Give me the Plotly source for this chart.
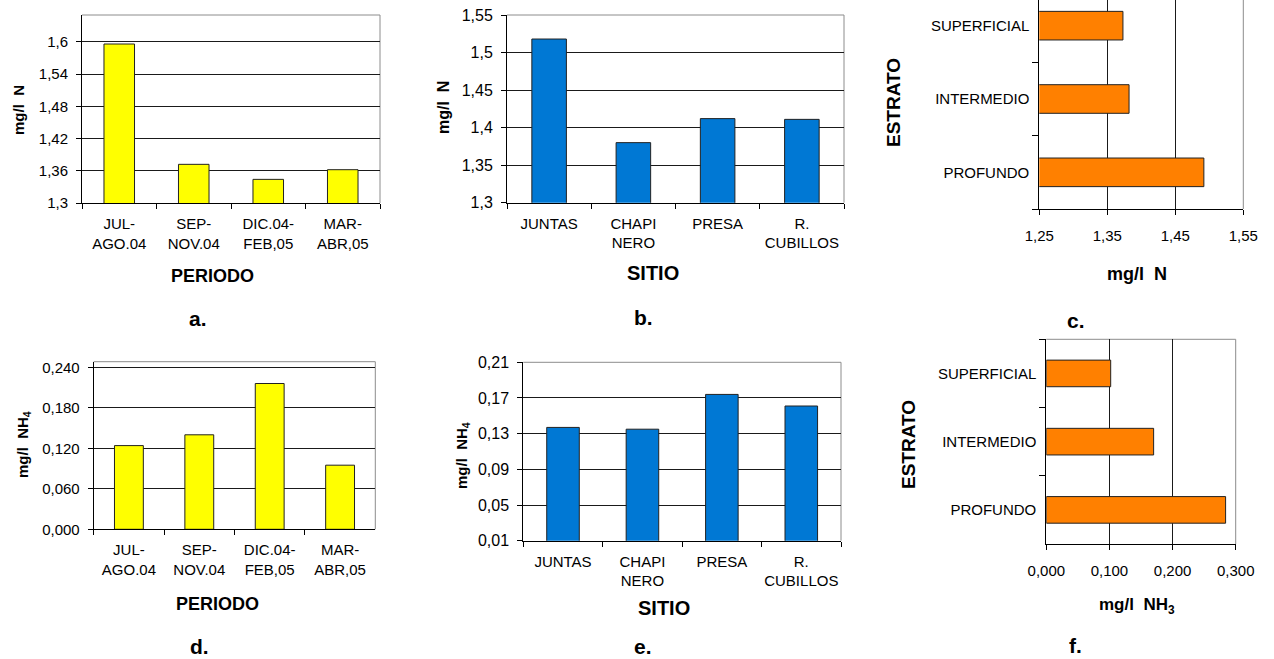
import plotly.graph_objects as go

W, H = 1274, 659
FONT = "Liberation Sans, Arial, sans-serif"

# ---- data -------------------------------------------------------------
periodos = ["JUL-<br>AGO.04", "SEP-<br>NOV.04", "DIC.04-<br>FEB,05", "MAR-<br>ABR,05"]
sitios = ["JUNTAS", "CHAPI<br>NERO", "PRESA", "R.<br>CUBILLOS"]
estratos = ["PROFUNDO", "INTERMEDIO", "SUPERFICIAL"]

n_periodo = [1.596, 1.372, 1.344, 1.362]
n_sitio = [1.518, 1.380, 1.412, 1.411]
n_estrato = [1.492, 1.382, 1.373]
nh4_periodo = [0.124, 0.140, 0.216, 0.095]
nh4_sitio = [0.137, 0.135, 0.174, 0.161]
nh3_estrato = [0.284, 0.170, 0.102]

ticks_a = [1.3, 1.36, 1.42, 1.48, 1.54, 1.6]
labels_a = ["1,3", "1,36", "1,42", "1,48", "1,54", "1,6"]
ticks_b = [1.3, 1.35, 1.4, 1.45, 1.5, 1.55]
labels_b = ["1,3", "1,35", "1,4", "1,45", "1,5", "1,55"]
ticks_c = [1.25, 1.35, 1.45, 1.55]
labels_c = ["1,25", "1,35", "1,45", "1,55"]
ticks_d = [0.0, 0.06, 0.12, 0.18, 0.24]
labels_d = ["0,000", "0,060", "0,120", "0,180", "0,240"]
ticks_e = [0.01, 0.05, 0.09, 0.13, 0.17, 0.21]
labels_e = ["0,01", "0,05", "0,09", "0,13", "0,17", "0,21"]
ticks_f = [0.0, 0.1, 0.2, 0.3]
labels_f = ["0,000", "0,100", "0,200", "0,300"]

YELLOW = "#FFFF00"
BLUE = "#0078D4"
ORANGE = "#FF8000"


def px(x):
    return x / W


def py(y):
    return 1 - y / H


fig = go.Figure()

# panel geometry in pixels: (left, right, top, bottom)
panels = [
    dict(k="", box=(82, 380, 15, 203), orient="v", cats=periodos, vals=n_periodo,
         color=YELLOW, rng=[1.3, 1.65], tv=ticks_a, tt=labels_a, tfs=15),
    dict(k="2", box=(507, 844, 15, 202.7), orient="v", cats=sitios, vals=n_sitio,
         color=BLUE, rng=[1.3, 1.55], tv=ticks_b, tt=labels_b, tfs=16),
    dict(k="3", box=(1039.3, 1243.3, 0, 209), orient="h", cats=estratos, vals=n_estrato,
         color=ORANGE, rng=[1.25, 1.55], tv=ticks_c, tt=labels_c, tfs=15, crng=[-0.5, 2.35]),
    dict(k="4", box=(93.7, 375.3, 361.7, 529.3), orient="v", cats=periodos, vals=nh4_periodo,
         color=YELLOW, rng=[0.0, 0.2483], tv=ticks_d, tt=labels_d, tfs=15),
    dict(k="5", box=(523.3, 841, 362.3, 540.7), orient="v", cats=sitios, vals=nh4_sitio,
         color=BLUE, rng=[0.01, 0.21], tv=ticks_e, tt=labels_e, tfs=16),
    dict(k="6", box=(1046.3, 1235.7, 339.3, 544), orient="h", cats=estratos, vals=nh3_estrato,
         color=ORANGE, rng=[0.0, 0.3], tv=ticks_f, tt=labels_f, tfs=15, crng=[-0.5, 2.5]),
]

layout_axes = {}
shapes = []
for p in panels:
    k = p["k"]
    x0, x1, y0, y1 = p["box"]
    xa, ya = "x" + k, "y" + k
    line = dict(color="#222222", width=1)
    common = dict(ticks="outside", tickcolor="#000", showline=True, linecolor="#000",
                  linewidth=1, automargin=False, fixedrange=True, tickangle=0)
    if p["orient"] == "v":
        fig.add_trace(go.Bar(x=p["cats"], y=p["vals"], xaxis=xa, yaxis=ya, width=0.41,
                             marker=dict(color=p["color"], line=line)))
        cat_ax = dict(type="category", tickson="boundaries", ticklen=5, showgrid=False,
                      ticklabelstandoff=7,
                      tickfont=dict(size=15, color="#000", family=FONT), **common)
        val_ax = dict(range=p["rng"], tickvals=p["tv"], ticktext=p["tt"], ticklen=5,
                      ticklabelstandoff=5, showgrid=True, gridcolor="#1a1a1a", gridwidth=1,
                      zeroline=False,
                      tickfont=dict(size=p["tfs"], color="#000", family=FONT), **common)
        xdef, ydef = cat_ax, val_ax
    else:
        fig.add_trace(go.Bar(y=p["cats"], x=p["vals"], orientation="h", xaxis=xa, yaxis=ya,
                             width=0.39, marker=dict(color=p["color"], line=line)))
        cat_ax = dict(type="category", range=p["crng"], tickson="boundaries", ticklen=6,
                      ticklabelstandoff=6, showgrid=False,
                      tickfont=dict(size=15, color="#000", family=FONT), **common)
        val_ax = dict(range=p["rng"], tickvals=p["tv"], ticktext=p["tt"], ticklen=5,
                      ticklabelstandoff=8, showgrid=True, gridcolor="#1a1a1a", gridwidth=1,
                      zeroline=False,
                      tickfont=dict(size=p["tfs"], color="#000", family=FONT), **common)
        xdef, ydef = val_ax, cat_ax
    xdef.update(domain=[px(x0), px(x1)], anchor=ya)
    ydef.update(domain=[py(y1), py(y0)], anchor=xa)
    layout_axes["xaxis" + k] = xdef
    layout_axes["yaxis" + k] = ydef
    # plot-area border (top and right edges)
    frame = dict(color="#8c8c8c", width=1)
    shapes.append(dict(type="line", xref=xa + " domain", yref=ya + " domain",
                       x0=1, x1=1, y0=0, y1=1, line=frame, layer="below"))
    if y0 > 0:
        shapes.append(dict(type="line", xref=xa + " domain", yref=ya + " domain",
                           x0=0, x1=1, y0=1, y1=1, line=frame, layer="below"))


# axis titles and panel letters
def ann(text, x, y, size, angle=0):
    return dict(text=f"<b>{text}</b>", x=px(x), y=py(y),
                xref="paper", yref="paper", showarrow=False, textangle=angle,
                xanchor="center", yanchor="middle",
                font=dict(size=size, color="#000", family=FONT))


annotations = [
    ann("mg/l  N", 18, 110, 15, -90),
    ann("PERIODO", 212, 276, 18),
    ann("a.", 198, 318, 21),
    ann("mg/l  N", 443, 108, 16, -90),
    ann("SITIO", 653, 273, 20),
    ann("b.", 643, 317, 21),
    ann("ESTRATO", 893, 103, 19, -90),
    ann("mg/l  N", 1137, 274, 18),
    ann("c.", 1076, 320, 21),
    ann("mg/l  NH<sub>4</sub>", 23, 445, 15, -90),
    ann("PERIODO", 217, 604, 18),
    ann("d.", 199, 646, 21),
    ann("mg/l  NH<sub>4</sub>", 462, 456, 15, -90),
    ann("SITIO", 664, 608, 20),
    ann("e.", 643, 646, 21),
    ann("ESTRATO", 908, 445, 19, -90),
    ann("mg/l  NH<sub>3</sub>", 1137, 606, 17),
    ann("f.", 1075, 645, 21),
]

fig.update_layout(
    width=W, height=H, margin=dict(l=0, r=0, t=0, b=0, autoexpand=False),
    paper_bgcolor="white", plot_bgcolor="white", showlegend=False,
    font=dict(family=FONT, color="#000"),
    shapes=shapes, annotations=annotations, **layout_axes,
)

fig.write_html("out.html")
